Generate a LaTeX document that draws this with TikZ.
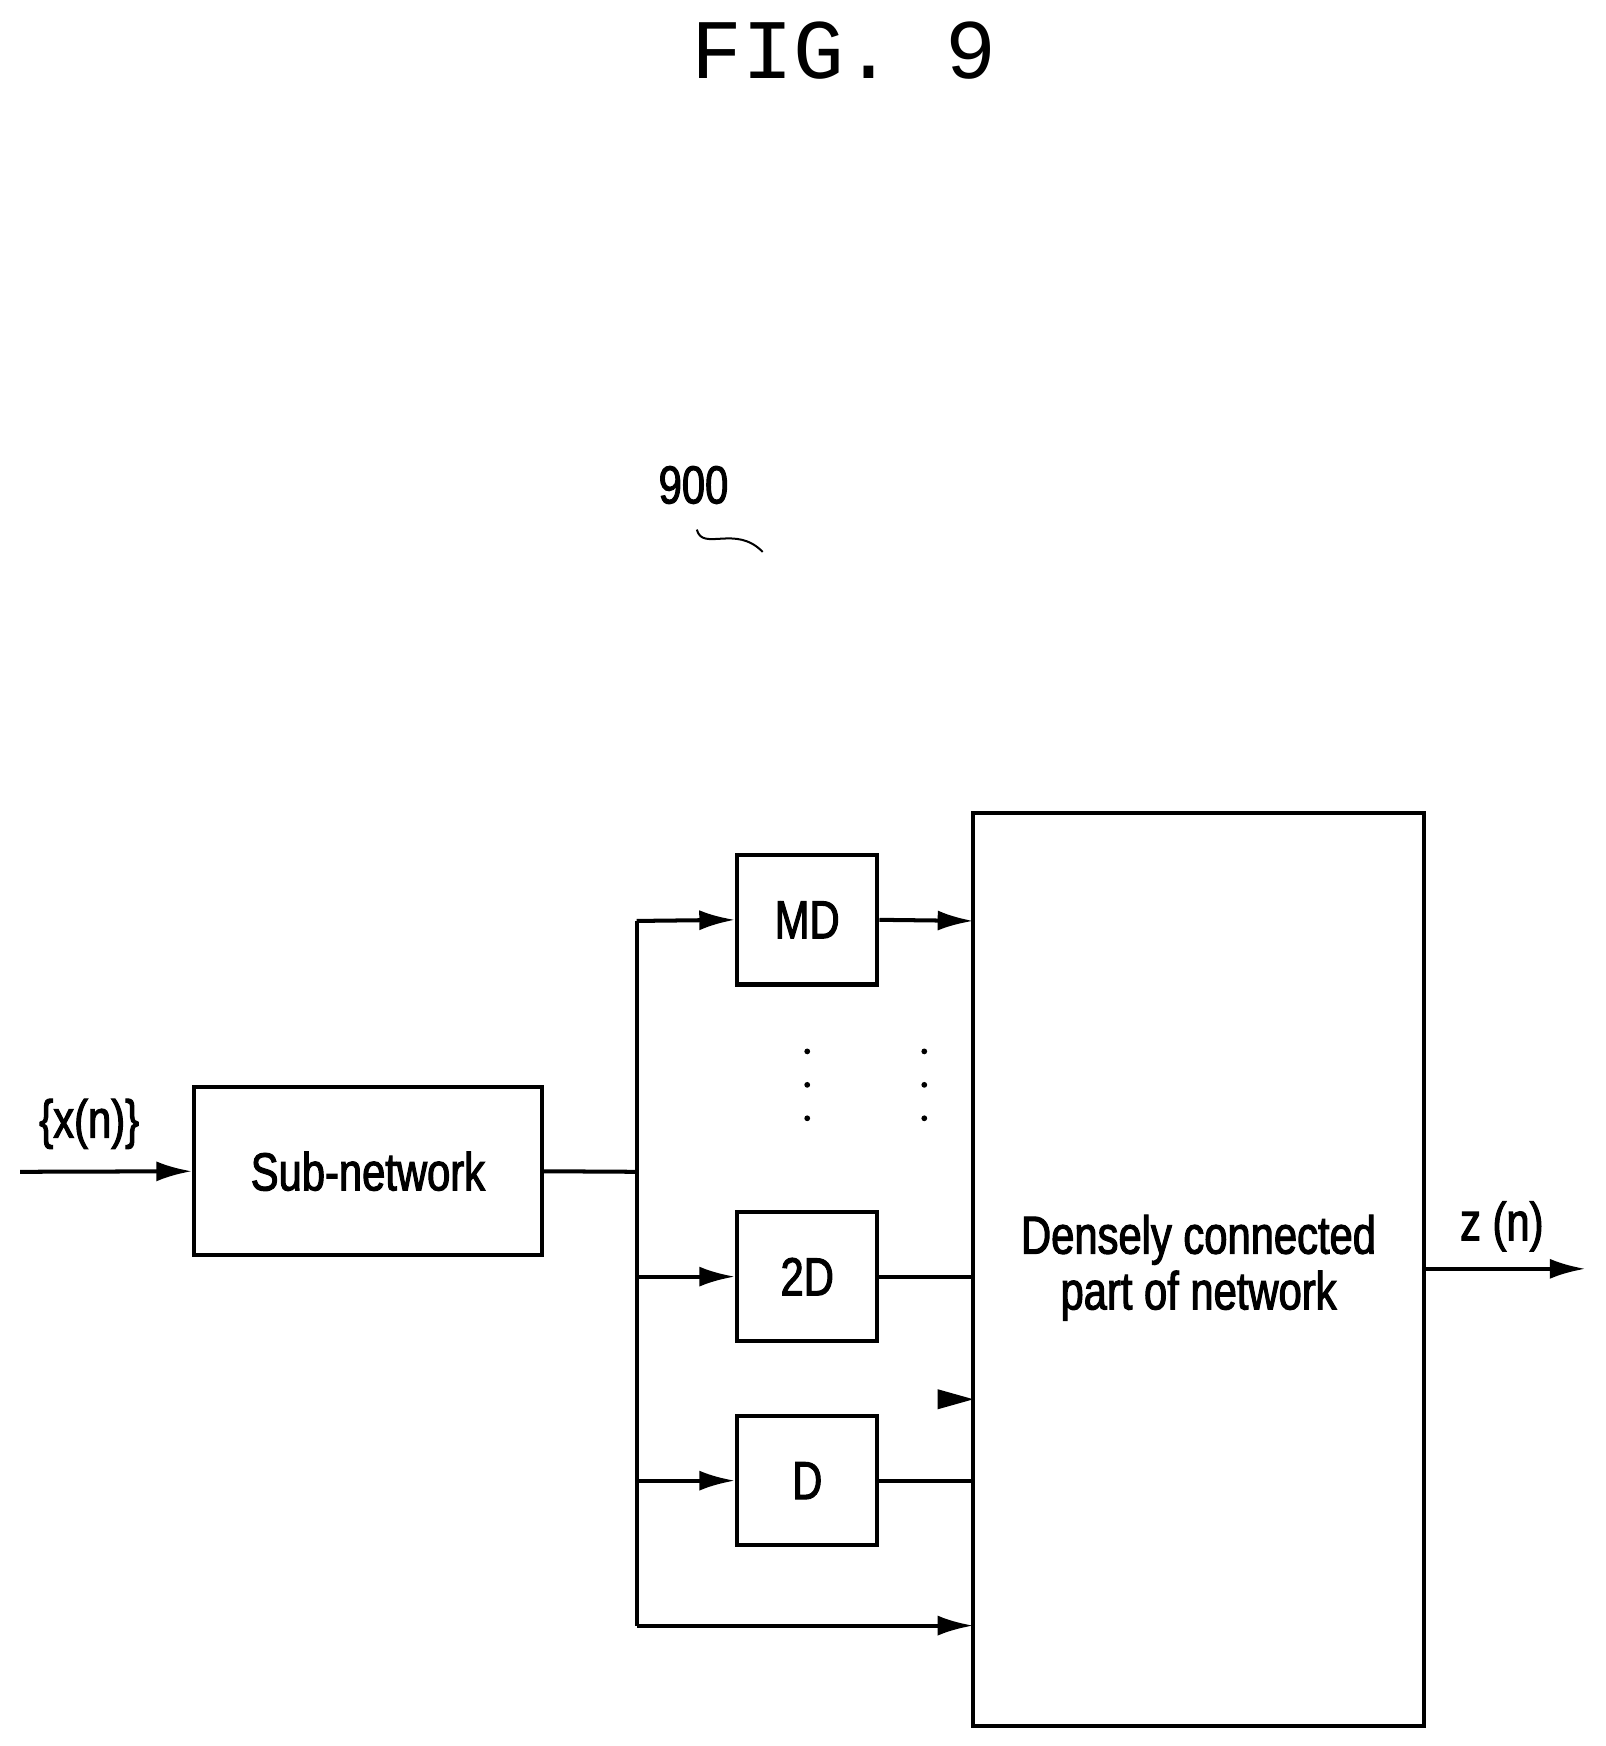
\documentclass[tikz,border=0pt]{standalone}
\usepackage{fontspec}
\setmainfont{Liberation Sans}[FakeStretch=0.78,FakeBold=2]
\newfontfamily\figfont{Liberation Mono}
\usetikzlibrary{arrows.meta}
\begin{document}
\begin{tikzpicture}[x=0.5pt,y=-0.5pt,line width=1.8pt,
  box/.style={draw,rectangle,inner sep=0pt},
  arr/.style={-{Latex[length=16pt,width=9pt]}},
  lbl/.style={font=\fontsize{24}{30}\selectfont}]
\useasboundingbox (0,0) rectangle (1440,1566);
\node[font=\figfont\fontsize{38}{40}\selectfont] (fig) at (757,45) {FIG. 9};
\node[lbl] (n900) at (622,435) {900};
\coordinate (s1) at (625,475); \coordinate (s2) at (684,495);
\draw[line width=0.9pt] (s1) .. controls (630,495) and (660,470) .. (s2);
\node[box,minimum width=156pt,minimum height=75.5pt] (sub) at (330,1050.5) {};
\node[lbl] at (sub) {Sub-network};
\node[box,minimum width=63pt,minimum height=58pt] (md) at (724,825) {};
\node[lbl] at (md) {MD};
\node[box,minimum width=63pt,minimum height=58pt] (d2) at (724,1145) {};
\node[lbl] at (d2) {2D};
\node[box,minimum width=63pt,minimum height=58pt] (d1) at (724,1328) {};
\node[lbl] at (d1) {D};
\node[box,minimum width=202pt,minimum height=409.5pt] (big) at (1075,1138.5) {};
\node[align=center,font=\fontsize{24}{25}\selectfont] at (1075,1137) {Densely connected\\part of network};
\coordinate (in) at (18,1051);
\draw[arr] (in) -- (sub.west);
\node[lbl] (xn) at (80,1008) {\{x(n)\}};
\coordinate (j) at (571,1051);
\coordinate (top) at (571,826);
\coordinate (bot) at (571,1458);
\draw (sub.east) -- (j);
\draw (top) -- (bot);
\draw[arr] (top) -- (md.west);
\draw[arr] (571,1145) -- (d2.west);
\draw[arr] (571,1328) -- (d1.west);
\draw[arr] (md.east) -- (873,826);
\draw (d2.east) -- (873,1145);
\draw (d1.east) -- (873,1328);
\draw[arr] (bot) -- (873,1458);
\coordinate (h1) at (841,1255);
\fill (841,1246) -- (873,1255) -- (841,1264) -- cycle;
\coordinate (out) at (1422,1138);
\draw[arr] (1277,1138) -- (out);
\node[lbl] (zn) at (1347,1100) {z (n)};
\foreach \x in {724,829} \foreach \y in {943,973,1003} \fill (\x,\y) circle (1.3pt);
\end{tikzpicture}
\end{document}
